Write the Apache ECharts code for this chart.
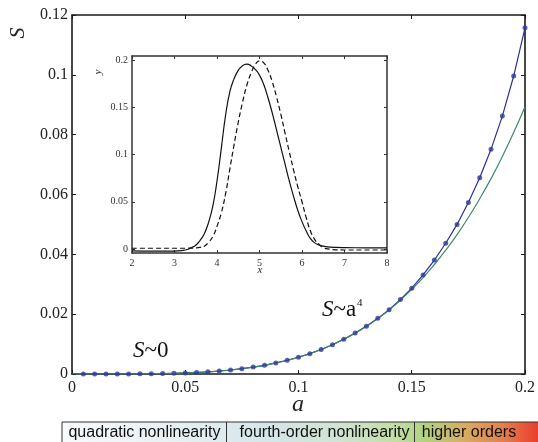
<!DOCTYPE html>
<html><head><meta charset="utf-8">
<script src="https://cdn.jsdelivr.net/npm/echarts@6/dist/echarts.min.js"></script>
<style>html,body{margin:0;padding:0;background:#fff}#c{width:538px;height:442px}</style>
</head><body><div id="c"></div>
<script>
// ---- main plot data (amplitude a vs S) ----
const aValues = [0.005,0.01,0.015,0.02,0.025,0.03,0.035,0.04,0.045,0.05,
  0.055,0.06,0.065,0.07,0.075,0.08,0.085,0.09,0.095,0.1,
  0.105,0.11,0.115,0.12,0.125,0.13,0.135,0.14,0.145,0.15,
  0.155,0.16,0.165,0.17,0.175,0.18,0.185,0.19,0.195,0.2];
const sNumerical = [0,0,0,0.00001,0.00002,0.00005,0.00008,0.00014,0.00023,0.00035,
  0.00051,0.00072,0.001,0.00134,0.00177,0.0023,0.0029,0.0037,0.0046,0.0056,
  0.0068,0.0082,0.0098,0.0116,0.0137,0.016,0.0186,0.0215,0.0249,0.0287,
  0.0331,0.0381,0.0437,0.05,0.0573,0.0656,0.0751,0.0862,0.0996,0.1157];
const sQuartic = [0,0,0,0.00001,0.00002,0.00005,0.00008,0.00014,0.00023,0.00035,
  0.00051,0.00072,0.001,0.00134,0.00177,0.0023,0.0029,0.0037,0.0045,0.0056,
  0.0068,0.0082,0.0098,0.0116,0.0136,0.0159,0.0185,0.0214,0.0247,0.0283,
  0.0322,0.0366,0.0414,0.0466,0.0523,0.0586,0.0653,0.0727,0.0807,0.0893];
const xTicks = [0,0.05,0.1,0.15,0.2];
const yTicks = [0,0.02,0.04,0.06,0.08,0.1,0.12];

// ---- inset data (x vs y profiles) ----
const insetX = [2,2.5,3,3.2,3.3,3.4,3.5,3.6,3.7,3.8,3.9,4,4.1,4.2,4.3,4.4,4.5,4.6,4.7,4.8,4.9,5,
  5.1,5.2,5.3,5.4,5.5,5.6,5.7,5.8,5.9,6,6.1,6.2,6.3,6.4,6.5,6.6,6.8,7,7.5,8];
const ySolid = [-0.002,-0.0022,-0.0022,-0.0015,-0.0005,0.0015,0.004,0.009,0.016,0.028,0.045,0.072,
  0.106,0.141,0.166,0.18,0.189,0.194,0.1955,0.194,0.19,0.184,
  0.174,0.16,0.144,0.126,0.108,0.09,0.072,0.056,0.041,0.029,0.019,0.011,0.0065,0.0042,0.003,0.0022,0.0017,0.0015,0.0013,0.0012];
const yDashed = [0.0008,0.0008,0.0008,0.0008,0.0009,0.001,0.0012,0.0018,0.003,0.007,0.013,0.024,
  0.038,0.058,0.084,0.11,0.134,0.155,0.173,0.186,0.195,0.199,
  0.197,0.189,0.177,0.161,0.143,0.123,0.103,0.084,0.066,0.05,0.033,0.019,0.01,0.005,0.0015,0.0002,-0.0008,-0.001,-0.001,-0.001];
const insetXTicks = [2,3,4,5,6,7,8];
const insetYTicks = [0,0.05,0.1,0.15,0.2];

// ---- band labels ----
const bandLabels = ['quadratic nonlinearity','fourth-order nonlinearity','higher orders'];

const serif = 'Liberation Serif';
const pair = (xs, ys) => xs.map((x, i) => [x, ys[i]]);

function mkAxis(base, extra) { return Object.assign({}, base, extra); }

const mainX = {type:'value', gridIndex:0, min:0, max:0.2, interval:0.05,
  axisLine:{show:true, onZero:false, lineStyle:{color:'#1a1a1a', width:1.6}},
  axisTick:{show:true, inside:true, length:4, lineStyle:{color:'#1a1a1a', width:1}},
  splitLine:{show:false}};
const mainY = {type:'value', gridIndex:0, min:0, max:0.12, interval:0.02,
  axisLine:{show:true, onZero:false, lineStyle:{color:'#1a1a1a', width:1.6}},
  axisTick:{show:true, inside:true, length:4, lineStyle:{color:'#1a1a1a', width:1}},
  splitLine:{show:false}};
const insX = {type:'value', gridIndex:1, min:2, max:8, interval:1,
  axisLine:{show:true, onZero:false, lineStyle:{color:'#333', width:1.5}},
  axisTick:{show:true, inside:true, length:3, lineStyle:{color:'#333', width:1}},
  splitLine:{show:false}};
const insY = {type:'value', gridIndex:1, min:-0.0042, max:0.2042,
  axisLine:{show:true, onZero:false, lineStyle:{color:'#333', width:1.5}},
  axisTick:{show:true, inside:true, length:3, customValues:insetYTicks, lineStyle:{color:'#333', width:1}},
  splitLine:{show:false}};

const option = {
  animation:false,
  backgroundColor:'#fff',
  grid:[
    {left:72, top:15, width:454, height:359, show:false},
    {left:132, top:56, width:255, height:197, show:true, backgroundColor:'#fff', borderWidth:0, z:5}
  ],
  xAxis:[
    mkAxis(mainX, {position:'bottom', axisLabel:{show:true, margin:6, color:'#222', fontFamily:serif, fontSize:16}}),
    mkAxis(mainX, {position:'top', axisLabel:{show:false}}),
    mkAxis(insX, {position:'bottom', z:6, axisLabel:{show:true, margin:5, color:'#333', fontFamily:serif, fontSize:10}}),
    mkAxis(insX, {position:'top', z:6, axisLabel:{show:false}})
  ],
  yAxis:[
    mkAxis(mainY, {position:'left', axisLabel:{show:true, margin:4, color:'#222', fontFamily:serif, fontSize:16}}),
    mkAxis(mainY, {position:'right', axisLabel:{show:false}}),
    mkAxis(insY, {position:'left', z:6, axisLabel:{show:true, margin:4, color:'#333', fontFamily:serif, fontSize:10, customValues:insetYTicks}}),
    mkAxis(insY, {position:'right', z:6, axisLabel:{show:false}})
  ],
  series:[
    {type:'line', xAxisIndex:0, yAxisIndex:0, data:pair(aValues, sNumerical), showSymbol:false, symbol:'none',
      lineStyle:{color:'#2a2f9a', width:1.2}, z:2},
    {type:'line', xAxisIndex:0, yAxisIndex:0, data:[[0,0]].concat(pair(aValues, sQuartic)), showSymbol:false, symbol:'none', smooth:true,
      lineStyle:{color:'#3e8a66', width:1.2}, z:3},
    {type:'scatter', xAxisIndex:0, yAxisIndex:0, data:pair(aValues, sNumerical), symbol:'circle', symbolSize:5,
      itemStyle:{color:'#2d3a9e'}, z:4},
    {type:'line', xAxisIndex:2, yAxisIndex:2, data:pair(insetX, ySolid), showSymbol:false, symbol:'none', smooth:0.5,
      lineStyle:{color:'#111', width:1.2}, z:7},
    {type:'line', xAxisIndex:2, yAxisIndex:2, data:pair(insetX, yDashed), showSymbol:false, symbol:'none', smooth:0.5,
      lineStyle:{color:'#111', width:1.2, type:[5,3]}, z:7}
  ],
  graphic:[
    {type:'text', x:18, y:33, rotation:Math.PI/2, style:{text:'S', font:'italic 22px "Liberation Serif"', fill:'#222', align:'center', verticalAlign:'middle'}},
    {type:'text', x:298, y:405, style:{text:'a', font:'italic 24px "Liberation Serif"', fill:'#222', align:'center', verticalAlign:'middle'}},
    {type:'text', x:98, y:72, rotation:Math.PI/2, z:10, style:{text:'y', font:'italic 11px "Liberation Serif"', fill:'#333', align:'center', verticalAlign:'middle'}},
    {type:'text', x:260, y:270, z:10, style:{text:'x', font:'italic 11px "Liberation Serif"', fill:'#333', align:'center', verticalAlign:'middle'}},
    {type:'text', x:133, y:351, style:{text:'{i|S}{r|~0}', align:'left', verticalAlign:'middle',
      rich:{i:{fontFamily:serif, fontStyle:'italic', fontSize:23, fill:'#111', color:'#111'}, r:{fontFamily:serif, fontSize:23, fill:'#111', color:'#111'}}}},
    {type:'text', x:322, y:310, style:{text:'{i|S}{r|~a}', align:'left', verticalAlign:'middle',
      rich:{i:{fontFamily:serif, fontStyle:'italic', fontSize:23, fill:'#111', color:'#111'}, r:{fontFamily:serif, fontSize:23, fill:'#111', color:'#111'}}}},
    {type:'text', x:357, y:303, style:{text:'4', font:'11px "Liberation Serif"', fill:'#111', align:'left', verticalAlign:'middle'}},
    {type:'rect', shape:{x:62, y:422, width:478, height:24}, z:1,
      style:{stroke:'#333', lineWidth:1, fill:{type:'linear', x:0, y:0, x2:1, y2:0, colorStops:[
        {offset:0, color:'#f8fafb'}, {offset:0.25, color:'#e6eff3'}, {offset:0.42, color:'#d5e6ea'},
        {offset:0.58, color:'#cfe4d2'}, {offset:0.7, color:'#c2dea3'}, {offset:0.76, color:'#b1d280'},
        {offset:0.84, color:'#d7ad62'}, {offset:0.92, color:'#e4804c'}, {offset:1, color:'#ea3a2c'}]}}},
    {type:'line', shape:{x1:226.5, y1:422, x2:226.5, y2:442}, z:2, style:{stroke:'#333', lineWidth:1}},
    {type:'line', shape:{x1:414.5, y1:422, x2:414.5, y2:442}, z:2, style:{stroke:'#333', lineWidth:1}},
    {type:'text', x:144.5, y:433, z:3, style:{text:bandLabels[0], font:'16px "Liberation Sans"', fill:'#111', align:'center', verticalAlign:'middle'}},
    {type:'text', x:324.5, y:433, z:3, style:{text:bandLabels[1], font:'16px "Liberation Sans"', fill:'#111', align:'center', verticalAlign:'middle'}},
    {type:'text', x:469, y:433, z:3, style:{text:bandLabels[2], font:'16px "Liberation Sans"', fill:'#111', align:'center', verticalAlign:'middle'}}
  ]
};
const chart = echarts.init(document.getElementById('c'), null, {renderer:'canvas'});
chart.setOption(option);
</script>
</body></html>
